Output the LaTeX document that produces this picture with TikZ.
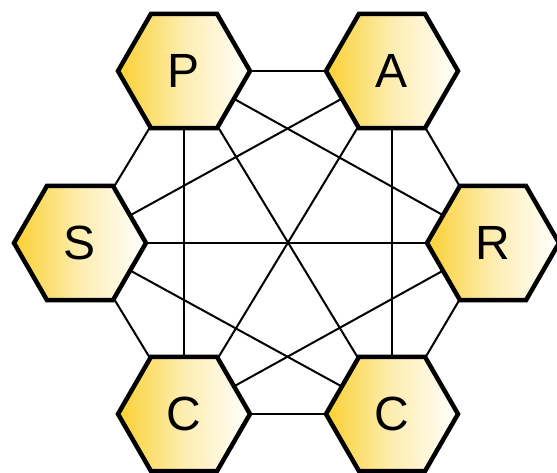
\documentclass[tikz,border=0pt]{standalone}
\usepackage{fontspec}
\setmainfont{Liberation Sans}
\usetikzlibrary{shapes.geometric}
\definecolor{hexgold}{RGB}{250,208,50}
\tikzset{
  hexnode/.style={regular polygon, regular polygon sides=6,
    minimum size=132pt, inner sep=0pt, draw=black, line width=4.5pt,
    left color=hexgold, right color=white, middle color={hexgold!38!white},
    font=\fontsize{48}{48}\selectfont},
  link/.style={draw=black, line width=2pt}
}
\begin{document}
\begin{tikzpicture}[x=1pt,y=-1pt]
\useasboundingbox (0,0) rectangle (557,473);
\coordinate (cP) at (184,71);
\coordinate (cA) at (392,71);
\coordinate (cS) at (80,243);
\coordinate (cR) at (493,243);
\coordinate (cC1) at (184,414);
\coordinate (cC2) at (392,414);
\foreach \a/\b in {cP/cA,cP/cS,cP/cR,cP/cC1,cP/cC2,cA/cS,cA/cR,cA/cC1,cA/cC2,cS/cR,cS/cC1,cS/cC2,cR/cC1,cR/cC2,cC1/cC2}
  \draw[link] (\a) -- (\b);
\node[hexnode] (P) at (cP) {P};
\node[hexnode] (A) at (cA) {A};
\node[hexnode] (S) at (cS) {S};
\node[hexnode] (R) at (cR) {R};
\node[hexnode] (C1) at (cC1) {C};
\node[hexnode] (C2) at (cC2) {C};
\end{tikzpicture}
\end{document}
